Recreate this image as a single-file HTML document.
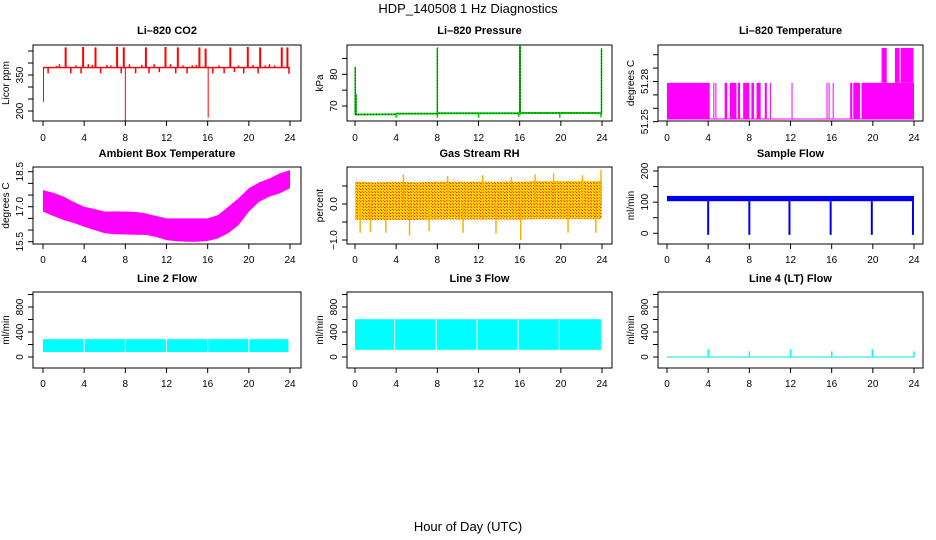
<!DOCTYPE html>
<html><head><meta charset="utf-8"><style>
html,body{margin:0;padding:0;background:#fff}
svg{display:block}
text{font-family:"Liberation Sans",sans-serif;fill:#000}
.t{font-weight:bold;font-size:11px}
.tk{font-size:10px}
</style></head><body>
<svg id="c" width="936" height="540" viewBox="0 0 936 540">
<defs>
<pattern id="rhpat" width="3" height="3" patternUnits="userSpaceOnUse">
<rect width="3" height="3" fill="#ffd200"/><rect width="1" height="1" fill="#ff2000"/><rect x="2" y="2" width="1" height="1" fill="#ff5000"/>
</pattern>
</defs>
<text x="468" y="13" text-anchor="middle" font-size="13">HDP_140508  1 Hz Diagnostics</text>
<text x="468" y="531" text-anchor="middle" font-size="13">Hour of Day (UTC)</text>
</svg>
<script>
// ---------- data ----------
const xTicks=[0,4,8,12,16,20,24];
// CO2
const co2Base=381;
const co2SpikeHours=[2.2,3.9,5.1,7.2,7.85,10.0,11.9,13.1,15.2,15.8,18.2,19.9,21.1,23.2,23.75];
const co2SpikeVals=[465,467,465,467,465,465,467,465,465,460,465,467,465,465,465];
const co2SmallHours=[0.5,1.3,1.6,2.7,3.2,3.7,4.4,4.8,5.6,6.2,6.6,7.6,8.4,9.0,9.6,10.3,10.8,11.3,12.4,12.9,13.6,14.0,14.5,14.9,16.5,17.1,17.6,18.6,19.0,19.5,20.4,20.9,21.6,22.0,22.5,23.9];
const co2SmallVals=[357,388,395,357,390,357,395,392,357,392,390,357,395,357,392,357,395,362,395,357,390,357,390,392,357,390,357,362,390,357,392,357,390,395,390,355];
const co2DropHours=[0.05,8.0,16.05];
const co2DropVals=[238,158,172];
// Pressure
const presHours=[0,0.1,4,4.05,8,8.05,16,16.05,24];
const presVals=[67.3,67.3,67.4,67.6,67.6,67.7,67.7,67.8,67.8];
const presSpikeHours=[0.02,0.1,8.0,16.0,16.05,23.95];
const presSpikeVals=[82.4,73.8,88.4,89.0,89.0,88.2];
const presDipHours=[4.0,8.0,12.0,15.9,19.9,23.9];
const presDipVals=[66.3,66.3,66.3,66.6,66.3,66.4];
// Li-820 temperature
const tempLow=51.252, tempMid=51.279, tempHigh=51.305;
const tempToggleStart=[0,4.5,4.7,5.6,6.1,6.9,7.4,8.2,8.7,9.5,10.0,12.1,15.5,15.7,16.1,17.8,18.1,18.9];
const tempToggleEnd=[4.15,4.6,4.8,5.85,6.75,7.1,8.0,8.45,9.1,9.7,10.05,12.15,15.55,15.75,16.15,18.0,18.75,24];
const tempHighStart=[20.85,22.15,22.7];
const tempHighEnd=[21.35,22.6,23.95];
// Ambient box temperature
const ambHours=[0,1,2,3,4,5,6,7,8,9,10,11,12,13,14,15,16,17,18,19,20,21,22,23,24];
const ambLo=[16.79,16.6,16.43,16.3,16.14,16.0,15.86,15.82,15.81,15.8,15.79,15.7,15.57,15.52,15.5,15.5,15.53,15.64,15.86,16.21,16.79,17.21,17.43,17.57,17.79];
const ambHi=[17.71,17.6,17.43,17.2,17.0,16.9,16.79,16.8,16.79,16.78,16.71,16.6,16.5,16.5,16.5,16.5,16.5,16.64,17.0,17.36,17.79,18.04,18.21,18.43,18.57];
// Gas stream RH
const rhHours=[0,2,4,6,8,10,12,14,16,18,20,22,24];
const rhLo=[-0.44,-0.44,-0.44,-0.44,-0.43,-0.43,-0.43,-0.43,-0.43,-0.42,-0.42,-0.42,-0.42];
const rhHi=[0.62,0.6,0.62,0.6,0.62,0.62,0.62,0.62,0.62,0.64,0.64,0.64,0.64];
const rhSpikeHours=[0.5,1.5,3.0,4.7,5.3,7.2,9.0,10.5,12.4,13.7,15.2,16.1,17.5,19.3,20.7,22.1,23.4,23.9];
const rhSpikeVals=[-0.8,-0.78,-0.8,0.82,-0.88,-0.75,0.78,-0.8,0.8,-0.82,0.75,-1.0,0.82,0.85,-0.8,0.8,-0.8,0.95];
// Sample flow
const sfLo=103, sfHi=120;
const sfDipHours=[4.0,8.0,11.9,15.9,19.9,23.9];
const sfDipVals=[-5,-5,-5,-5,-5,-5];
// Line 2 flow
const l2Start=[0,4.05,8.05,12.05,16.05,20.05];
const l2End=[3.95,7.95,11.95,15.95,19.95,23.85];
const l2Lo=80, l2Hi=285;
// Line 3 flow
const l3Start=[0,3.9,7.95,11.9,15.9,19.9];
const l3End=[3.8,7.85,11.8,15.8,19.8,23.9];
const l3Lo=115, l3Hi=605;
// Line 4 flow
const l4Base=0;
const l4SpikeHours=[4.0,8.0,12.0,16.0,19.95,24.0];
const l4SpikeVals=[125,90,125,90,125,90];

// ---------- layout ----------
const NS="http://www.w3.org/2000/svg";
const svg=document.getElementById('c');
function el(tag,attrs,parent){const e=document.createElementNS(NS,tag);for(const k in attrs)e.setAttribute(k,attrs[k]);(parent||svg).appendChild(e);return e;}
const cols=[{x0:33,x1:301,h0:43,h24:290},{x0:347,x1:612,h0:355,h24:602},{x0:658,x1:923,h0:667,h24:914}];
const rows=[{y0:45,y1:121,ty:34,ly:141},{y0:167,y1:244,ty:157,ly:263},{y0:292,y1:368,ty:282,ly:387}];

function panel(name,title,ci,ri,ya,yb,yTicks,yLabels,ylab){
  const c=cols[ci],r=rows[ri];
  const g=el('g',{});
  
  
  const X=h=>c.h0+(c.h24-c.h0)*h/24;
  const Y=v=>ya[1]+(v-ya[0])*(yb[1]-ya[1])/(yb[0]-ya[0]);
  const clipId='clip-'+name;
  const cp=el('clipPath',{id:clipId},g);
  el('rect',{x:c.x0,y:r.y0,width:c.x1-c.x0,height:r.y1-r.y0},cp);
  const plot=el('g',{'clip-path':'url(#'+clipId+')'},g);
  
  
  const box=el('rect',{x:c.x0,y:r.y0,width:c.x1-c.x0,height:r.y1-r.y0,fill:'none',stroke:'#000','stroke-width':1},g);
  
  
  const t=el('text',{x:(c.x0+c.x1)/2,y:r.ty,'text-anchor':'middle',class:'t'},g);t.textContent=title;
  
  
  // x axis
  const xa=el('g',{},g);
  
  
  el('line',{x1:X(xTicks[0]),x2:X(xTicks[xTicks.length-1]),y1:r.y1,y2:r.y1,stroke:'#000'},xa);
  xTicks.forEach(h=>{
    el('line',{x1:X(h),x2:X(h),y1:r.y1,y2:r.y1+5,stroke:'#000'},xa);
    const tl=el('text',{x:X(h),y:r.ly,'text-anchor':'middle',class:'tk'},xa);tl.textContent=h;
    
    
  });
  // y axis
  const ya_=el('g',{},g);
  
  
  el('line',{x1:c.x0,x2:c.x0,y1:Y(yTicks[0]),y2:Y(yTicks[yTicks.length-1]),stroke:'#000'},ya_);
  yTicks.forEach((v,i)=>{
    el('line',{x1:c.x0-5,x2:c.x0,y1:Y(v),y2:Y(v),stroke:'#000'},ya_);
    if(yLabels[i]){const tx=c.x0-10,ty=Y(v);
      const tl=el('text',{x:tx,y:ty,'text-anchor':'middle',class:'tk',transform:'rotate(-90 '+tx+' '+ty+')'},ya_);tl.textContent=yLabels[i];
      
      }
  });
  const lx=c.x0-24,ly=(r.y0+r.y1)/2;
  const yl=el('text',{x:lx,y:ly,'text-anchor':'middle',class:'tk',transform:'rotate(-90 '+lx+' '+ly+')'},g);yl.textContent=ylab;
  
  
  return {X,Y,plot};
}
function vline(p,h,v0,v1,col,w){return el('line',{x1:p.X(h),x2:p.X(h),y1:p.Y(v0),y2:p.Y(v1),stroke:col,'stroke-width':w||1},p.plot);}
function band(p,hs,lo,hi,fill){
  let pts=hs.map((h,i)=>p.X(h)+','+p.Y(hi[i]));
  pts=pts.concat(hs.map((h,i)=>p.X(h)+','+p.Y(lo[i])).reverse());
  return el('polygon',{points:pts.join(' '),fill:fill},p.plot);
}
function rectH(p,h0,h1,v0,v1,fill){return el('rect',{x:p.X(h0),y:p.Y(v1),width:Math.max(1,p.X(h1)-p.X(h0)),height:p.Y(v0)-p.Y(v1),fill:fill},p.plot);}

// CO2
{const p=panel('co2','Li–820 CO2',0,0,[200,111],[350,75],[200,250,300,350,400,450],['200','','','350','',''],'Licor ppm');
 const b=rectH(p,0,24,co2Base-3,co2Base+3,'#ff0000');
 co2SpikeHours.forEach((h,i)=>{const s=vline(p,h,co2Base,co2SpikeVals[i],'#ff0000',2);});
 co2SmallHours.forEach((h,i)=>{const s=vline(p,h,co2Base,co2SmallVals[i],'#ff0000',1.5);});
 co2DropHours.forEach((h,i)=>{const s=vline(p,h,co2Base,co2DropVals[i],'#ff0000',1);});
}
// Pressure
{const p=panel('pressure','Li–820 Pressure',1,0,[70,106],[80,74.3],[70,75,80,85],['70','','80',''],'kPa');
 const pts=presHours.map((h,i)=>p.X(h)+','+p.Y(presVals[i])).join(' ');
 const l=el('polyline',{points:pts,fill:'none',stroke:'#00dd00','stroke-width':2},p.plot);
 const d=el('polyline',{points:pts,fill:'none',stroke:'#000','stroke-width':1,'stroke-dasharray':'1 2'},p.plot);
 presSpikeHours.forEach((h,i)=>{const s=vline(p,h,presVals[0],presSpikeVals[i],'#00cc00',1.5);
   const s2=el('line',{x1:p.X(h),x2:p.X(h),y1:p.Y(presVals[0]),y2:p.Y(presSpikeVals[i]),stroke:'#000','stroke-dasharray':'1 2'},p.plot);});
 presDipHours.forEach((h,i)=>{const s=vline(p,h,67.6,presDipVals[i],'#00cc00',1.5);});
}
// Temperature
{const p=panel('li820-temp','Li–820 Temperature',2,0,[51.25,121.7],[51.28,81.5],[51.25,51.26,51.27,51.28,51.29,51.30],['51.25','','','51.28','',''],'degrees C');
 const b=vline(p,0,tempLow,tempLow,'#ff00ff',1);b.setAttribute('x2',p.X(24));
 tempToggleStart.forEach((h,i)=>{const r=rectH(p,h,tempToggleEnd[i],tempLow,tempMid,'#ff00ff');});
 tempHighStart.forEach((h,i)=>{const r=rectH(p,h,tempHighEnd[i],tempMid,tempHigh,'#ff00ff');});
}
// Ambient
{const p=panel('ambient-temp','Ambient Box Temperature',0,1,[15.5,241.7],[18.5,171.7],[15.5,16,16.5,17,17.5,18,18.5],['15.5','','','17.0','','','18.5'],'degrees C');
 const b=band(p,ambHours,ambLo,ambHi,'#ff00ff');
}
// RH
{const p=panel('gas-rh','Gas Stream RH',1,1,[-1,240],[0,204],[-1,-0.5,0,0.5],['−1.0','','0.0',''],'percent');
 const b=band(p,rhHours,rhLo,rhHi,'url(#rhpat)');
 rhSpikeHours.forEach((h,i)=>{const s=vline(p,h,0,rhSpikeVals[i],'#ffb000',1.5);});
}
// Sample flow
{const p=panel('sample-flow','Sample Flow',2,1,[0,233.3],[200,171],[0,50,100,150,200],['0','','100','','200'],'ml/min');
 const b=rectH(p,0,24,sfLo,sfHi,'#0000ee');
 sfDipHours.forEach((h,i)=>{const s=vline(p,h,sfLo,sfDipVals[i],'#0000ee',2);});
}
const flowTicks=[0,200,400,600,800,1000],flowLabels=['0','','400','','800',''];
// Line 2
{const p=panel('line2-flow','Line 2 Flow',0,2,[0,357],[800,307],flowTicks,flowLabels,'ml/min');
 l2Start.forEach((h,i)=>{const r=rectH(p,h,l2End[i],l2Lo,l2Hi,'#00ffff');});
}
// Line 3
{const p=panel('line3-flow','Line 3 Flow',1,2,[0,357],[800,307],flowTicks,flowLabels,'ml/min');
 l3Start.forEach((h,i)=>{const r=rectH(p,h,l3End[i],l3Lo,l3Hi,'#00ffff');});
}
// Line 4
{const p=panel('line4-flow','Line 4 (LT) Flow',2,2,[0,357],[800,307],flowTicks,flowLabels,'ml/min');
 const b=vline(p,0,l4Base,l4Base,'#00e5e5',1);b.setAttribute('x2',p.X(24));
 l4SpikeHours.forEach((h,i)=>{const s=vline(p,h,l4Base,l4SpikeVals[i],'#00ffff',1.5);});
}
</script>
</body></html>
